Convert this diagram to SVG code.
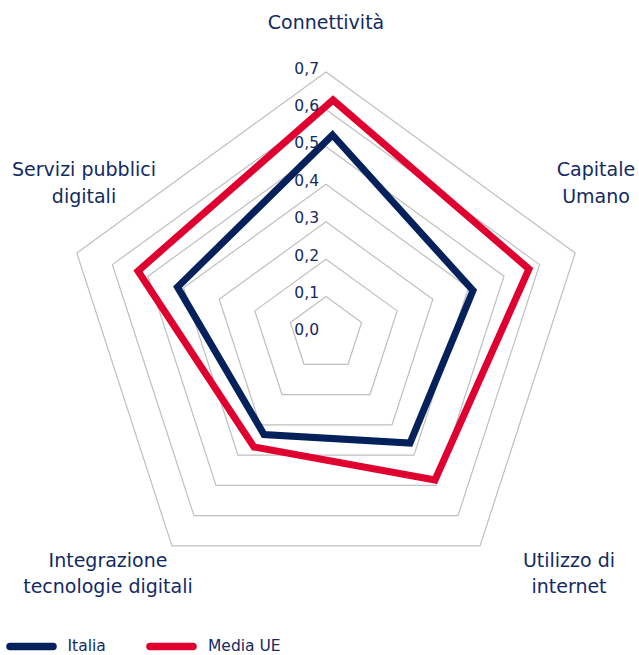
<svg xmlns="http://www.w3.org/2000/svg" width="639" height="655" viewBox="0 0 639 655">
<style>
.grid{fill:none;stroke:#bfbfbf;stroke-width:1.2}
.it{fill:none;stroke:#04215c;stroke-width:7;stroke-linejoin:miter}
.ue{fill:none;stroke:#e0002f;stroke-width:7;stroke-linejoin:miter}
.cat{font-family:"DejaVu Sans",sans-serif;font-size:19px;fill:#132a63;text-anchor:middle}
.tick{font-family:"DejaVu Sans",sans-serif;font-size:15.5px;fill:#132a63;text-anchor:end}
.leg{font-family:"DejaVu Sans",sans-serif;font-size:15.5px;fill:#132a63}
</style>
<rect width="639" height="655" fill="#ffffff"/>
<g id="grid">
<polygon class="grid" points="326,296.57 361.6,322.43 348,364.28 304,364.28 290.4,322.43"/>
<polygon class="grid" points="326,259.14 397.2,310.87 370,394.56 282,394.56 254.8,310.87"/>
<polygon class="grid" points="326,221.71 432.8,299.3 392,424.84 260,424.84 219.2,299.3"/>
<polygon class="grid" points="326,184.29 468.39,287.74 414,455.12 238,455.12 183.61,287.74"/>
<polygon class="grid" points="326,146.86 503.99,276.17 436,485.4 216,485.4 148.01,276.17"/>
<polygon class="grid" points="326,109.43 539.59,264.61 458,515.68 194,515.68 112.41,264.61"/>
<polygon class="grid" points="326,72 575.19,253.04 480,545.96 172,545.96 76.81,253.04"/>
</g>
<g id="connectors">
<polygon id="series-italia" class="it" points="332.5,135 473,290.5 410,443 264,434.5 177.5,287"/>
<polygon id="series-ue" class="ue" points="333,100 529,269 435,480 254,447 138,271"/>
</g>
<g id="axis-connettivita"><text class="cat" x="326" y="29">Connettività</text></g>
<g id="axis-capitale-umano"><text class="cat" x="596" y="176">Capitale</text><text class="cat" x="596" y="202.5">Umano</text></g>
<g id="axis-utilizzo-internet"><text class="cat" x="569" y="566.5">Utilizzo di</text><text class="cat" x="569" y="593">internet</text></g>
<g id="axis-integrazione"><text class="cat" x="108" y="566.5">Integrazione</text><text class="cat" x="108" y="593">tecnologie digitali</text></g>
<g id="axis-servizi"><text class="cat" x="84" y="176">Servizi pubblici</text><text class="cat" x="84" y="202.5">digitali</text></g>
<g id="ticks">
<text class="tick" x="319" y="73.5">0,7</text>
<text class="tick" x="319" y="111">0,6</text>
<text class="tick" x="319" y="148.4">0,5</text>
<text class="tick" x="319" y="185.8">0,4</text>
<text class="tick" x="319" y="223.2">0,3</text>
<text class="tick" x="319" y="260.6">0,2</text>
<text class="tick" x="319" y="298">0,1</text>
<text class="tick" x="319" y="335.4">0,0</text>
</g>
<g id="legend">
<line x1="10" y1="646.5" x2="53" y2="646.5" stroke="#04215c" stroke-width="7.5" stroke-linecap="round"/>
<text class="leg" x="67.5" y="651">Italia</text>
<line x1="150" y1="646.5" x2="193" y2="646.5" stroke="#e0002f" stroke-width="7.5" stroke-linecap="round"/>
<text class="leg" x="208" y="651">Media UE</text>
</g>
</svg>
